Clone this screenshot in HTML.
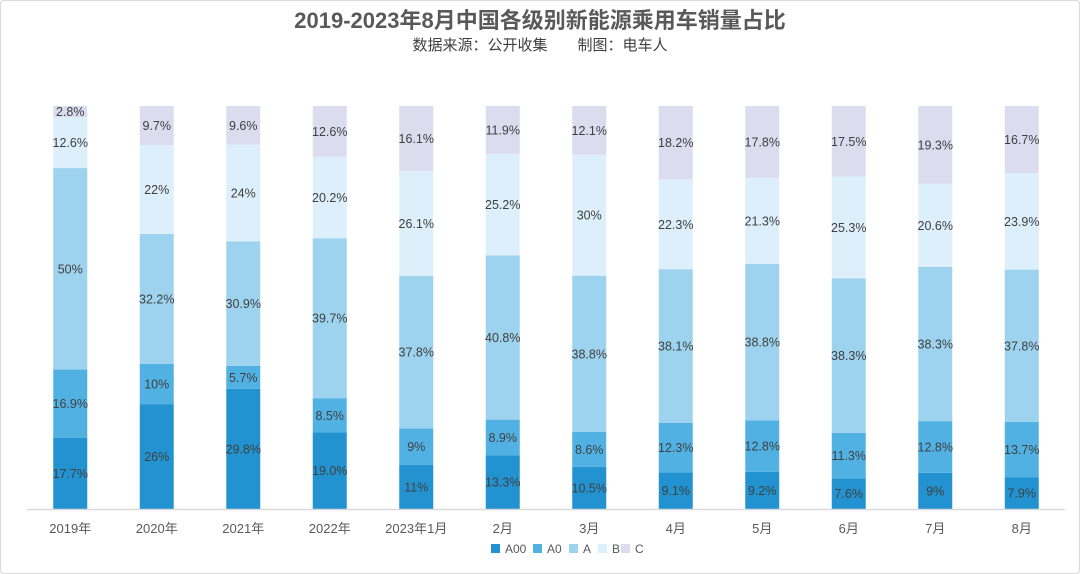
<!DOCTYPE html>
<html><head><meta charset="utf-8"><style>
body{margin:0;background:#fff;}
#wrap{position:relative;width:1078px;height:572px;border:1px solid #d9d9d9;border-radius:4px;overflow:hidden;font-family:"Liberation Sans","Noto Sans CJK SC",sans-serif;}
svg text{font-family:"Liberation Sans","Noto Sans CJK SC",sans-serif;}
</style></head><body>
<div id="wrap">
<svg id="chart" width="1078" height="572">
<text x="539" y="27" text-anchor="middle" font-size="22" font-weight="bold" fill="#595959">2019-2023年8月中国各级别新能源乘用车销量占比</text>
<text x="539" y="49" text-anchor="middle" font-size="15" fill="#404040">数据来源：公开收集　　制图：电车人</text>
</svg>
</div>
<script>
const categories=["2019年","2020年","2021年","2022年","2023年1月","2月","3月","4月","5月","6月","7月","8月"];
const seriesNames=["A00","A0","A","B","C"];
const a00=[17.7,26,29.8,19.0,11,13.3,10.5,9.1,9.2,7.6,9,7.9];
const a0=[16.9,10,5.7,8.5,9,8.9,8.6,12.3,12.8,11.3,12.8,13.7];
const aSeg=[50,32.2,30.9,39.7,37.8,40.8,38.8,38.1,38.8,38.3,38.3,37.8];
const bSeg=[12.6,22,24,20.2,26.1,25.2,30,22.3,21.3,25.3,20.6,23.9];
const cSeg=[2.8,9.7,9.6,12.6,16.1,11.9,12.1,18.2,17.8,17.5,19.3,16.7];
const labelsOverride={"3-0":"19.0%"};
const colors=["#2293d0","#52b1e3","#9dd3ee","#ddeffa","#dcdcef"];
const svg=document.getElementById('chart');
const NS="http://www.w3.org/2000/svg";
const plotL=26,plotR=1064,baseY=508,topY=105;
const band=(plotR-plotL)/categories.length, barW=34;
const xC=i=>plotL+band*(i+0.5);
const yS=p=>baseY-(baseY-topY)*p/100;
const series=[a00,a0,aSeg,bSeg,cSeg];
categories.forEach((cat,i)=>{
  const tot=series.reduce((s,a)=>s+a[i],0);
  let cum=0;
  series.forEach((arr,k)=>{
    const v=arr[i];
    const y0=yS(cum/tot*100), y1=yS((cum+v)/tot*100);
    const r=document.createElementNS(NS,'rect');
    r.setAttribute('x',xC(i)-barW/2);r.setAttribute('y',y1);
    r.setAttribute('width',barW);r.setAttribute('height',y0-y1);
    r.setAttribute('fill',colors[k]);
    
    
    svg.appendChild(r);
    const t=document.createElementNS(NS,'text');
    t.setAttribute('x',xC(i));t.setAttribute('y',(y0+y1)/2+4.5);
    t.setAttribute('text-anchor','middle');t.setAttribute('font-size','12.5');t.setAttribute('fill','#404040');
    t.textContent=labelsOverride[i+'-'+k]||(v+'%');
    
    
    svg.appendChild(t);
    cum+=v;
  });
  const xl=document.createElementNS(NS,'text');
  xl.setAttribute('x',xC(i));xl.setAttribute('y',532);xl.setAttribute('text-anchor','middle');
  xl.setAttribute('font-size','13');xl.setAttribute('fill','#595959');
  xl.textContent=cat;
  
  
  svg.appendChild(xl);
});
const ax=document.createElementNS(NS,'line');
ax.setAttribute('x1',plotL);ax.setAttribute('x2',plotR);ax.setAttribute('y1',baseY+0.5);ax.setAttribute('y2',baseY+0.5);
ax.setAttribute('stroke','#d9d9d9');ax.setAttribute('stroke-width','1.5');


svg.appendChild(ax);
const legX=[490,532,568,597,620];
seriesNames.forEach((n,k)=>{
  const g=document.createElementNS(NS,'g');
  
  
  const r=document.createElementNS(NS,'rect');
  r.setAttribute('x',legX[k]);r.setAttribute('y',543);r.setAttribute('width',9);r.setAttribute('height',9);r.setAttribute('fill',colors[k]);
  g.appendChild(r);
  const t=document.createElementNS(NS,'text');
  t.setAttribute('x',legX[k]+14);t.setAttribute('y',552);t.setAttribute('font-size','12');t.setAttribute('fill','#595959');
  t.textContent=n;g.appendChild(t);
  svg.appendChild(g);
});
</script>
</body></html>
